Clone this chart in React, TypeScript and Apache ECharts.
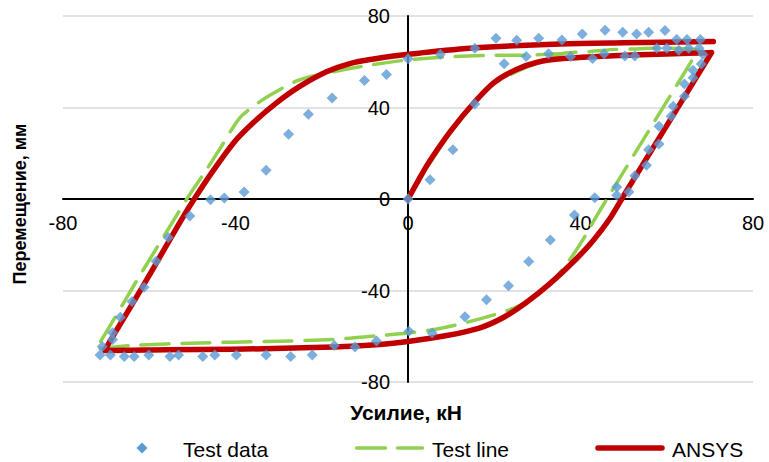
import { useEffect, useRef } from "react";
import * as echarts from "echarts";

const xMin = -80;
const xMax = 80;
const yMin = -80;
const yMax = 80;
const tickStep = 40;

const seriesNames = ["Test data", "Test line", "ANSYS"];
const xTitle = "Усилие, кН";
const yTitle = "Перемещение, мм";

const testData: [number, number][] = [
  [0, 0], [5.1, 8.4], [10.4, 21.5], [15.5, 41.5], [22.3, 59.1], [27.4, 62.3],
  [32.6, 63.5], [37.7, 62.3], [42.8, 61.4], [45.5, 63.5], [50.3, 62.5], [52.6, 62.5],
  [57.7, 65.9], [60, 65.9], [62.8, 65], [65.1, 65.9], [67.5, 65.9], [68.4, 63.2],
  [68, 59], [66.1, 56.3], [66.1, 53], [64.1, 50.3], [64.1, 44.9], [61.5, 40.5],
  [61, 36.2], [58.2, 31.8], [58.2, 24], [55.8, 21.5], [55.3, 14.7], [52.6, 10.2],
  [51.2, 3.1], [48.4, 5.3], [48.4, 1.6], [43.3, 0.6], [38.6, -7], [33, -17.9],
  [28, -27.3], [23.3, -37.9], [18.2, -44], [13.2, -51.5], [5.6, -58.6], [0.2, -57.8],
  [-7.3, -62.1], [-12.3, -64.7], [-17.1, -64], [-22.2, -68.2], [-27.2, -68.9],
  [-32.9, -68.2], [-39.8, -68.2], [-44.8, -68.2], [-47.6, -68.9], [-53.2, -68.2],
  [-55.2, -68.9], [-60.1, -68.2], [-63.5, -68.9], [-65.8, -68.9], [-69, -68.2],
  [-71.4, -68.2], [-70.9, -64.5], [-68.5, -61.4], [-68.5, -58.5], [-66.7, -51.7],
  [-64, -44.8], [-61.2, -38.6], [-58.4, -27.2], [-55.6, -16.8], [-50.6, -7.4],
  [-45.8, -0.3], [-42.6, 0.4], [-38, 3.1], [-32.9, 12.6], [-27.7, 28.3], [-23.1, 37],
  [-17.6, 44.2], [-10.1, 51.8], [-5, 54.4], [0, 61.3], [7.5, 63.3], [15.5, 65.9],
  [20.4, 70.3], [25.2, 69.4], [30.3, 70.3], [35.7, 69.5], [40.4, 72.1], [45.7, 73.8],
  [49.8, 72.9], [53, 72.1], [55.8, 72.9], [59.6, 73.7], [62.3, 69.7], [64.7, 69.7],
  [67.8, 69.7],
];

const testLine: [number, number][] = [
  [0, 0], [5, 15.5], [10, 29.5], [15.5, 42], [20, 50.5], [25, 55.5], [30, 59.5],
  [36, 63.6], [42, 64.4], [47, 65.3], [53, 65.6], [58, 66], [63, 65.8], [66.9, 65.3],
  [67.3, 65.2], [67.1, 64.4], [55, 27.3], [46.9, 2.4], [43, -9.8], [41.6, -14.6],
  [38.7, -23.3], [35.5, -31.5], [32.9, -37.4], [28.5, -43.8], [24.4, -47.8],
  [16.7, -52.4], [7.4, -56.6], [0, -58.6], [-6.5, -59.7], [-17.3, -61.4],
  [-32.8, -62.3], [-48.3, -62.9], [-63.8, -64], [-71.8, -65.4], [-72.3, -65.5],
  [-72.1, -64.8], [-69.1, -55.5], [-66, -45.6], [-63, -36], [-58.3, -21.5],
  [-54.4, -9.5], [-51.3, 0], [-46.7, 12.9], [-43.6, 22], [-40.5, 31.5],
  [-38.5, 36.5], [-34, 43], [-30, 47.5], [-26, 51.5], [-22, 53.8], [-15, 56.5],
  [-8, 58.8], [0, 60.8], [10, 62.2], [20, 62.8], [28, 62.9], [36, 63.6],
];

const ansys: [number, number][] = [
  [0, 0], [2.5, 8.5], [5, 16.5], [10, 30], [15.5, 42.5], [20, 51], [25, 56.5],
  [30, 59.8], [36, 61.4], [47.6, 62.6], [60, 63.4], [69.8, 63.95], [70.4, 64],
  [70.1, 63.1], [60, 32.1], [50, 1.4], [46.9, -8.3], [43, -18], [39.1, -26],
  [32.9, -37], [27.5, -45.1], [22.1, -51.8], [16.7, -56.3], [9, -59.7], [0, -62.3],
  [-6.5, -63.6], [-17.3, -64.7], [-40.5, -65.7], [-56, -65.9], [-69.6, -66.2],
  [-70.3, -66.2], [-70.1, -65.4], [-66, -52.4], [-61.4, -37.9], [-56.8, -22.9],
  [-52.1, -7.7], [-49, 1.6], [-45.5, 11.5], [-40.5, 24.4], [-35.9, 33.3],
  [-30.5, 42], [-25.1, 49.2], [-18.9, 55.6], [-13.5, 59.2], [-8, 61.2],
  [-1.9, 62.8], [5, 64.3], [16.7, 66.2], [35.3, 67.8], [50, 68.3], [70.8, 68.8],
];

const FONT = "'Liberation Sans', Arial, sans-serif";
const GRID = { left: 63, right: 16, top: 16, bottom: 80 };
const W = 769;
const H = 462;
const BLUE = "#5b9bd5";
const GREEN = "#92d050";
const RED = "#c00000";

export default function App() {
  const ref = useRef<HTMLDivElement>(null);
  useEffect(() => {
    const chart = echarts.init(ref.current!, null, { renderer: "svg" });
    const gridW = W - GRID.left - GRID.right;
    const gridH = H - GRID.top - GRID.bottom;
    // move the axes (line + labels) to the zero position, as in the reference
    const xOffset = -gridH * ((0 - yMin) / (yMax - yMin));
    const yOffset = -gridW * ((0 - xMin) / (xMax - xMin));
    const legendY = 448;
    const legendTextStyle = {
      fontSize: 21,
      fontFamily: FONT,
      fill: "#000",
      align: "left",
      verticalAlign: "middle",
    };
    chart.setOption({
      animation: false,
      backgroundColor: "#ffffff",
      textStyle: { fontFamily: FONT },
      grid: { ...GRID, outerBoundsMode: "none" },
      xAxis: {
        type: "value",
        position: "bottom",
        offset: xOffset,
        min: xMin,
        max: xMax,
        interval: tickStep,
        axisLine: { onZero: false, lineStyle: { color: "#000", width: 2 } },
        axisTick: { show: false },
        splitLine: { show: false },
        axisLabel: { fontSize: 20, color: "#000", margin: 14, fontFamily: FONT },
      },
      yAxis: {
        type: "value",
        position: "left",
        offset: yOffset,
        min: yMin,
        max: yMax,
        interval: tickStep,
        axisLine: { onZero: false, lineStyle: { color: "#000", width: 2 } },
        axisTick: { show: false },
        splitLine: { show: true, lineStyle: { color: "#d9d9d9", width: 1.5 } },
        axisLabel: { fontSize: 20, color: "#000", margin: 18, fontFamily: FONT },
      },
      graphic: [
        {
          type: "text",
          x: 406,
          y: 412,
          style: {
            text: xTitle,
            fontSize: 21,
            fontWeight: "bold",
            fontFamily: FONT,
            fill: "#000",
            align: "center",
            verticalAlign: "middle",
          },
        },
        {
          type: "text",
          x: 20,
          y: 204,
          rotation: Math.PI / 2,
          style: {
            text: yTitle,
            fontSize: 18,
            fontWeight: "bold",
            fontFamily: FONT,
            fill: "#000",
            align: "center",
            verticalAlign: "middle",
          },
        },
        // legend
        {
          type: "polygon",
          shape: {
            points: [
              [142, legendY - 5.5],
              [147.5, legendY],
              [142, legendY + 5.5],
              [136.5, legendY],
            ],
          },
          style: { fill: BLUE },
        },
        { type: "text", x: 183, y: legendY + 1, style: { ...legendTextStyle, text: seriesNames[0] } },
        {
          type: "line",
          shape: { x1: 356.5, y1: legendY, x2: 422.5, y2: legendY },
          style: { stroke: GREEN, lineWidth: 3.5, lineDash: [29, 12], lineCap: "round" },
        },
        { type: "text", x: 432, y: legendY + 1, style: { ...legendTextStyle, text: seriesNames[1] } },
        {
          type: "line",
          shape: { x1: 598, y1: legendY, x2: 662, y2: legendY },
          style: { stroke: RED, lineWidth: 5.5, lineCap: "round" },
        },
        { type: "text", x: 672, y: legendY + 1, style: { ...legendTextStyle, text: seriesNames[2] } },
      ],
      series: [
        {
          name: seriesNames[0],
          type: "scatter",
          data: testData,
          symbol: "diamond",
          symbolSize: 11,
          itemStyle: { color: BLUE },
          z: 5,
        },
        {
          name: seriesNames[1],
          type: "line",
          data: testLine,
          symbol: "none",
          smooth: 0.3,
          lineStyle: { color: GREEN, width: 3.5, type: [28, 13], cap: "round" },
          itemStyle: { color: GREEN },
          z: 2,
        },
        {
          name: seriesNames[2],
          type: "line",
          data: ansys,
          symbol: "none",
          smooth: 0.3,
          lineStyle: { color: RED, width: 5.5, cap: "round", join: "round" },
          itemStyle: { color: RED },
          z: 3,
        },
      ],
    });
    return () => chart.dispose();
  }, []);
  return (
    <div
      ref={ref}
      style={{ position: "absolute", left: 0, top: 0, width: W, height: H }}
    />
  );
}
